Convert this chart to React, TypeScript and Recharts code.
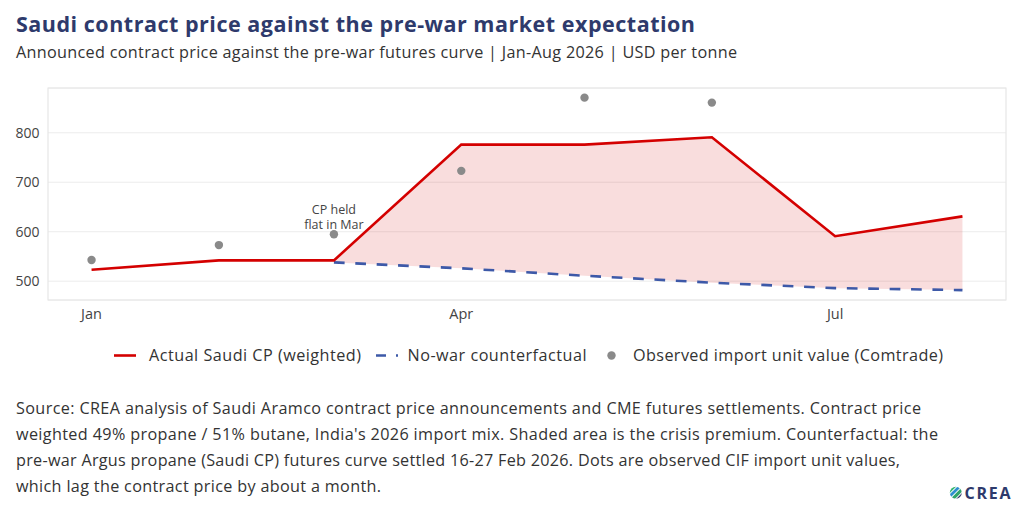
import React from 'react';
import {
  ComposedChart,
  Line,
  Area,
  Scatter,
  XAxis,
  YAxis,
  CartesianGrid,
  ReferenceArea,
  ReferenceDot,
} from 'recharts';

// ---- data ----
const months = ['Jan', 'Feb', 'Mar', 'Apr', 'May', 'Jun', 'Jul', 'Aug'];
const monthDay = [0, 31, 59, 90, 120, 151, 181, 212]; // day of 2026 on the 1st of each month
const actualCP = [523, 542, 542, 776, 776, 791, 591, 631];
const noWarCP = [null, null, 538, 526, 511, 497, 486, 482];
const observedUV = [543, 573, 595, 723, 871, 861, null, null];
const xTicks = [0, 90, 181];
const xTickLabels = ['Jan', 'Apr', 'Jul'];
const yTicks = [500, 600, 700, 800];
const xDomain = [-10.6, 222.6];
const yDomain = [462, 890.5];

const chartData = months.map((m, i) => ({
  day: monthDay[i],
  month: m,
  actual: actualCP[i],
  noWar: noWarCP[i],
  premium: noWarCP[i] == null ? null : [noWarCP[i], actualCP[i]],
}));
const scatterData = months
  .map((m, i) => ({ day: monthDay[i], month: m, observed: observedUV[i] }))
  .filter((d) => d.observed != null);

const titleText = 'Saudi contract price against the pre-war market expectation';
const subtitleText =
  'Announced contract price against the pre-war futures curve | Jan-Aug 2026 | USD per tonne';
const footLines = [
  'Source: CREA analysis of Saudi Aramco contract price announcements and CME futures settlements. Contract price',
  "weighted 49% propane / 51% butane, India's 2026 import mix. Shaded area is the crisis premium. Counterfactual: the",
  'pre-war Argus propane (Saudi CP) futures curve settled 16-27 Feb 2026. Dots are observed CIF import unit values,',
  'which lag the contract price by about a month.',
];
const footWidths = [905, 922, 884, 365];
const footBaselines = [413.5, 439.5, 465.5, 491.5];

const RED = '#d40000';
const BLUE = '#3d59a8';
const GREY = '#8a8a8a';
const NAVY = '#2e3a6c';
const TEXT = '#333333';
const FONT = "'Open Sans', 'Noto Sans', sans-serif";

const Annotation = (props: any) => {
  const { cx, cy } = props;
  if (cx == null || cy == null) return null;
  return (
    <g>
      <text x={cx} y={cy - 20} textAnchor="middle" fontSize={12.5} fill="#444" fontFamily={FONT}>
        CP held
      </text>
      <text x={cx} y={cy - 5} textAnchor="middle" fontSize={12.5} fill="#444" fontFamily={FONT}>
        flat in Mar
      </text>
    </g>
  );
};

const DotShape = (props: any) => {
  const { cx, cy } = props;
  if (cx == null || cy == null) return null;
  return <circle cx={cx} cy={cy} r={4.2} fill={GREY} />;
};

export default function App() {
  return (
    <div
      style={{
        position: 'absolute',
        left: 0,
        top: 0,
        width: 1024,
        height: 512,
        background: '#ffffff',
        fontFamily: FONT,
        overflow: 'hidden',
      }}
    >
      <div style={{ position: 'absolute', left: 0, top: 0 }}>
        <ComposedChart
          width={1024}
          height={330}
          data={chartData}
          margin={{ top: 88, right: 18, bottom: 0, left: 0 }}
        >
          <CartesianGrid vertical={false} stroke="#ececec" strokeWidth={1} />
          <XAxis
            type="number"
            dataKey="day"
            domain={xDomain}
            ticks={xTicks}
            tickFormatter={(v: number) => xTickLabels[xTicks.indexOf(v)] ?? ''}
            axisLine={false}
            tickLine={false}
            tickSize={0}
            tickMargin={9}
            height={30}
            allowDataOverflow
            tick={{ fill: '#444444', fontSize: 14.5, fontFamily: FONT }}
          />
          <YAxis
            type="number"
            domain={yDomain}
            ticks={yTicks}
            axisLine={false}
            tickLine={false}
            tickSize={0}
            tickMargin={8.5}
            width={48}
            allowDataOverflow
            tick={{ fill: '#444444', fontSize: 14, fontFamily: FONT }}
          />
          <ReferenceArea
            x1={xDomain[0]}
            x2={xDomain[1]}
            y1={yDomain[0]}
            y2={yDomain[1]}
            fill="none"
            fillOpacity={0}
            stroke="#e6e6e6"
            strokeWidth={1.2}
            ifOverflow="visible"
          />
          <Area
            type="linear"
            dataKey="premium"
            stroke="none"
            fill={RED}
            fillOpacity={0.135}
            dot={false}
            activeDot={false}
            isAnimationActive={false}
          />
          <Line
            type="linear"
            dataKey="noWar"
            stroke={BLUE}
            strokeWidth={2.6}
            strokeDasharray="10.7 10.7"
            dot={false}
            activeDot={false}
            isAnimationActive={false}
          />
          <Line
            type="linear"
            dataKey="actual"
            stroke={RED}
            strokeWidth={2.6}
            dot={false}
            activeDot={false}
            isAnimationActive={false}
          />
          <Scatter
            data={scatterData}
            dataKey="observed"
            fill={GREY}
            shape={DotShape}
            isAnimationActive={false}
          />
          <ReferenceDot x={59} y={595} r={0} ifOverflow="visible" shape={Annotation} />
        </ComposedChart>
      </div>

      <svg
        width={1024}
        height={512}
        style={{ position: 'absolute', left: 0, top: 0, pointerEvents: 'none' }}
        fontFamily={FONT}
      >
        <text
          x={16}
          y={31.5}
          fontSize={21.5}
          fontWeight={700}
          fill={NAVY}
          textLength={679}
          lengthAdjust="spacing"
        >
          {titleText}
        </text>
        <text x={16} y={58} fontSize={16.2} fill={TEXT} textLength={721} lengthAdjust="spacing">
          {subtitleText}
        </text>

        {/* legend */}
        <line x1={114} y1={355.5} x2={136} y2={355.5} stroke={RED} strokeWidth={2.6} />
        <text x={149} y={361} fontSize={16.2} fill={TEXT} textLength={212} lengthAdjust="spacing">
          Actual Saudi CP (weighted)
        </text>
        <line
          x1={376}
          y1={355.5}
          x2={398}
          y2={355.5}
          stroke={BLUE}
          strokeWidth={2.6}
          strokeDasharray="10 10"
        />
        <text x={407.5} y={361} fontSize={16.2} fill={TEXT} textLength={179} lengthAdjust="spacing">
          No-war counterfactual
        </text>
        <circle cx={611.5} cy={355.5} r={4.2} fill={GREY} />
        <text x={633} y={361} fontSize={16.2} fill={TEXT} textLength={310} lengthAdjust="spacing">
          Observed import unit value (Comtrade)
        </text>

        {/* footnote */}
        {footLines.map((t, i) => (
          <text
            key={i}
            x={16}
            y={footBaselines[i]}
            fontSize={16.2}
            fill={TEXT}
            textLength={footWidths[i]}
            lengthAdjust="spacing"
          >
            {t}
          </text>
        ))}

        {/* CREA logo */}
        <defs>
          <clipPath id="creaClip">
            <circle cx={955.8} cy={492.8} r={6} />
          </clipPath>
        </defs>
        <g clipPath="url(#creaClip)">
          <g transform="rotate(-45 955.8 492.8)">
            <rect x={946} y={485.3} width={20} height={3.4} fill="#35b56f" />
            <rect x={946} y={489.6} width={20} height={2.8} fill="#2d8fcf" />
            <rect x={946} y={493.3} width={20} height={3.2} fill="#2fa46b" />
            <rect x={946} y={497.4} width={20} height={4} fill={NAVY} />
          </g>
        </g>
        <text x={964.5} y={499} fontSize={16} fontWeight={700} fill={NAVY} textLength={46} lengthAdjust="spacing">
          CREA
        </text>
      </svg>
    </div>
  );
}
